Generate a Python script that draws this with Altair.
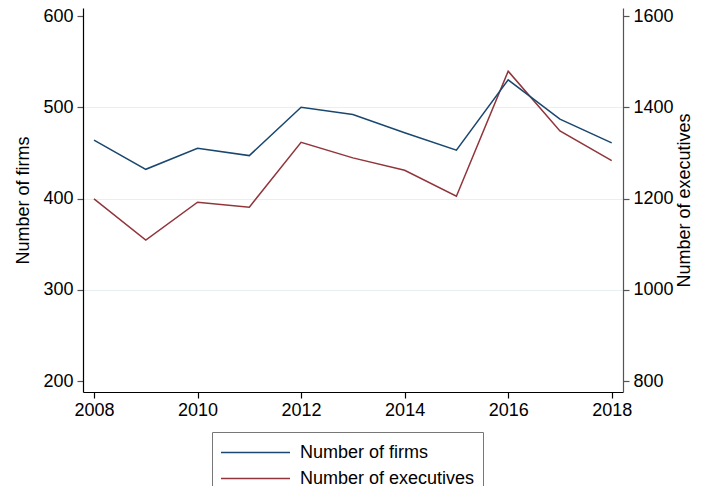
import altair as alt
import pandas as pd

years = [2008, 2009, 2010, 2011, 2012, 2013, 2014, 2015, 2016, 2017, 2018]
firms = [464, 432, 455, 447, 500, 492, 472, 453, 530, 487, 461]
executives = [1199, 1109, 1192, 1181, 1323, 1289, 1262, 1205, 1479, 1348, 1283]
series_names = ["Number of firms", "Number of executives"]
series_colors = ["#1a476f", "#90353b"]
year_ticks = [2008, 2010, 2012, 2014, 2016, 2018]
firm_ticks = [200, 300, 400, 500, 600]
exec_ticks = [800, 1000, 1200, 1400, 1600]

df = pd.DataFrame({
    "year": years + years,
    "value": firms + executives,
    "series": [series_names[0]] * len(years) + [series_names[1]] * len(years),
})

FONT = "Liberation Sans"

x_enc = alt.X(
    "year:Q",
    scale=alt.Scale(domain=[2007.7875, 2018.218], nice=False, zero=False),
    axis=alt.Axis(values=year_ticks, format="d", title=None, grid=False,
                  labelFontSize=18, tickSize=6, labelPadding=3,
                  domainColor="black", tickColor="black"),
)

color_enc = alt.Color(
    "series:N",
    scale=alt.Scale(domain=series_names, range=series_colors),
    legend=alt.Legend(title=None),
)

base = alt.Chart(df)

firms_layer = base.transform_filter(alt.datum.series == series_names[0]).mark_line(strokeWidth=1.5).encode(
    x=x_enc,
    y=alt.Y("value:Q",
            scale=alt.Scale(domain=[187.95, 608.77], nice=False, zero=False),
            axis=alt.Axis(values=firm_ticks, format="d", title="Number of firms", orient="left",
                          grid=True, gridColor="#e7eff1", gridWidth=1.2,
                          gridOpacity=alt.ExprRef("datum.value == 200 || datum.value == 600 ? 0 : 1"),
                          labelFontSize=18, titleFontSize=18, tickSize=6, labelPadding=4,
                          titlePadding=10, domainColor="black", tickColor="#555555")),
    color=color_enc,
)

exec_layer = base.transform_filter(alt.datum.series == series_names[1]).mark_line(strokeWidth=1.5).encode(
    x=x_enc,
    y=alt.Y("value:Q",
            scale=alt.Scale(domain=[775.9, 1617.54], nice=False, zero=False),
            axis=alt.Axis(values=exec_ticks, format="d", title="Number of executives", orient="right",
                          grid=False, labelFontSize=18, titleFontSize=18, tickSize=6,
                          labelPadding=4, titlePadding=2, titleAngle=270, titleBaseline="top",
                          domainColor="#555555", tickColor="#555555")),
    color=color_enc,
)

chart = alt.layer(exec_layer, firms_layer).resolve_scale(y="independent").properties(
    width=540,
    height=384,
    autosize=alt.AutoSizeParams(type="none"),
    padding={"left": 75, "top": 0, "right": 70, "bottom": 94},
).configure_view(stroke=None).configure_axis(
    labelFont=FONT, titleFont=FONT, labelColor="black", titleColor="black",
    titleFontWeight="normal", domainWidth=1.2, tickWidth=1.2,
).configure_legend(
    orient="none", legendX=129, legendY=424, strokeColor="#777777", fillColor="white",
    padding=8, symbolType="M-3,0L3,0", symbolSize=529, symbolStrokeWidth=1.5,
    symbolOffset=23, labelFont=FONT, labelFontSize=18, labelColor="black",
    labelOffset=32, labelLimit=400, rowPadding=4,
)

chart.save("out.html", embed_options={"renderer": "svg", "actions": False})
